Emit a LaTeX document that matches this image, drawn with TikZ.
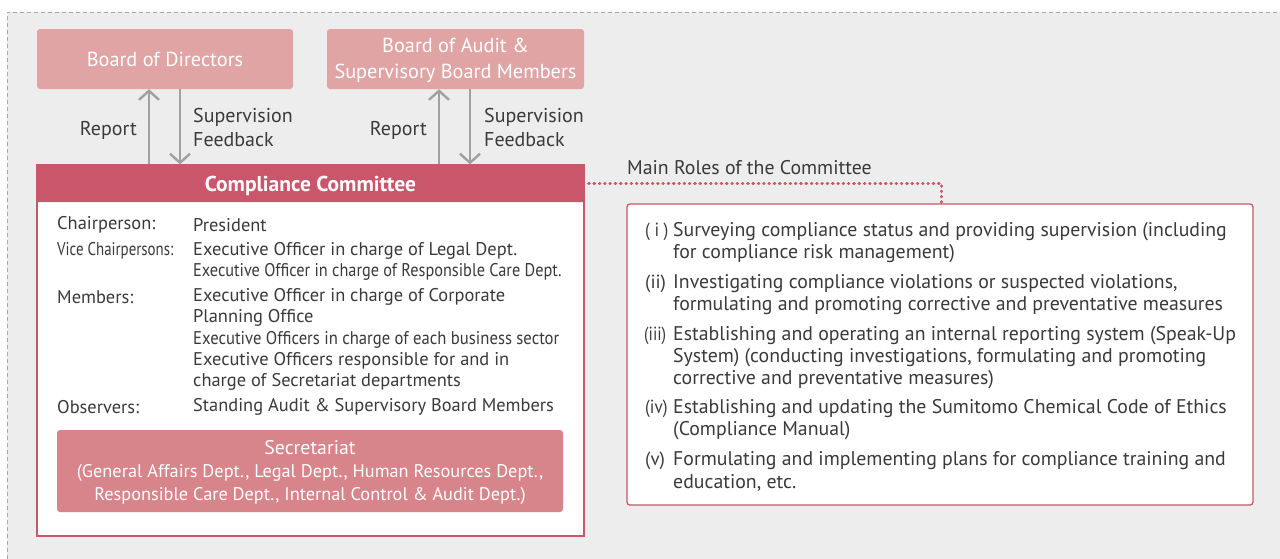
\documentclass[tikz,border=0pt]{standalone}
\usepackage{fontspec}
\setmainfont{PT Sans}
\usetikzlibrary{arrows.meta,calc}
\definecolor{bggray}{HTML}{EDEDED}
\definecolor{framegray}{HTML}{A8A8A8}
\definecolor{boardpink}{HTML}{E0A4A4}
\definecolor{ccred}{HTML}{C9566A}
\definecolor{secpink}{HTML}{D7848A}
\definecolor{txt}{HTML}{3A3A3A}
\definecolor{arrgray}{HTML}{A0A0A0}
\tikzset{
  board/.style={fill=boardpink, rounded corners=3pt, text=white, align=center, inner sep=0pt, font=\fontsize{20.3}{26}\selectfont},
  arr/.style={draw=arrgray, line width=2.6pt, -{Straight Barb[length=9pt,width=20pt,line width=2.4pt]}},
  lbl/.style={text=txt, font=\fontsize{20}{24}\selectfont, inner sep=0pt},
  bodytxt/.style={text=txt, font=\fontsize{18.4}{21}\selectfont, inner sep=0pt, anchor=west},
  roletxt/.style={text=txt, font=\fontsize{19.8}{22}\selectfont, inner sep=0pt, anchor=west},
  rolenum/.style={roletxt, font=\fontsize{19}{22}\selectfont},
  dotline/.style={draw=ccred, line width=3pt, line cap=round, dash pattern=on 0.6pt off 4.7pt}
}
\begin{document}
\begin{tikzpicture}[x=1pt,y=-1pt]
\useasboundingbox (0,0) rectangle (1280,558);
\clip (0,0) rectangle (1280,558);
% background frame
\fill[bggray] (7,12) rectangle (1300,580);
\draw[framegray, line width=1pt, dash pattern=on 4pt off 3pt] (7,580) -- (7,12) -- (1300,12);

% boards
\node[board, minimum width=256pt, minimum height=60pt] (bod) at (165,59) {Board of Directors};
\node[board, minimum width=257pt, minimum height=60pt] (bas) at (455.5,59) {};
\node[text=white, align=center, inner sep=0pt, font=\fontsize{20.3}{26}\selectfont] (bast) at (455.5,60) {Board of Audit \&\\Supervisory Board Members};

% compliance committee
\node[draw=ccred, line width=1.3pt, fill=white, minimum width=547pt, minimum height=371pt, inner sep=0pt] (cc) at (310.5,350.5) {};
\fill[ccred] (37,202) [rounded corners=3pt] -- (37,165) -- (584,165) [sharp corners] -- (584,202) -- cycle;
\node[text=white, font=\fontsize{21.5}{22}\selectfont\bfseries, inner sep=0pt] (cchead) at (310.5,186) {Compliance Committee};

% arrows
\draw[arr] (cc.north -| 149,0) -- (bod.south -| 149,0);
\draw[arr] (bod.south -| 180,0) -- (cc.north -| 180,0);
\draw[arr] (cc.north -| 439,0) -- (bas.south -| 439,0);
\draw[arr] (bas.south -| 470,0) -- (cc.north -| 470,0);
\node[lbl, anchor=east] (rep1) at (137,130) {Report};
\node[lbl, anchor=west, align=left] (sup1) at (193,127) {Supervision\\Feedback};
\node[lbl, anchor=east] (rep2) at (427,130) {Report};
\node[lbl, anchor=west, align=left] (sup2) at (484,127) {Supervision\\Feedback};

% committee body
\node[bodytxt] (l1) at (57,225) {Chairperson:};
\node[bodytxt] (v1) at (193,225) {President};
\node[bodytxt] (l2) at (57,251) {\scalebox{0.81}[1]{Vice Chairpersons:}};
\node[bodytxt] (v2) at (193,251) {Executive Officer in charge of Legal Dept.};
\node[bodytxt] (v3) at (193,272) {\scalebox{0.885}[1]{Executive Officer in charge of Responsible Care Dept.}};
\node[bodytxt] (l4) at (57,297) {Members:};
\node[bodytxt] (v4) at (193,297) {Executive Officer in charge of Corporate};
\node[bodytxt] (v5) at (193,318) {Planning Office};
\node[bodytxt] (v6) at (193,340) {\scalebox{0.905}[1]{Executive Officers in charge of each business sector}};
\node[bodytxt] (v7) at (193,361) {Executive Officers responsible for and in};
\node[bodytxt] (v8) at (193,382) {charge of Secretariat departments};
\node[bodytxt] (l9) at (57,407) {Observers:};
\node[bodytxt] (v9) at (193,407) {Standing Audit \& Supervisory Board Members};

% secretariat
\node[fill=secpink, rounded corners=3pt, minimum width=506pt, minimum height=82pt, inner sep=0pt] (sec) at (310,471) {};
\node[text=white, font=\fontsize{19.8}{22}\selectfont, inner sep=0pt] (sect) at (310,448) {Secretariat};
\node[text=white, font=\fontsize{18.3}{23}\selectfont, inner sep=0pt, align=center] (secd) at (310,484.5) {(General Affairs Dept., Legal Dept., Human Resources Dept.,\\Responsible Care Dept., Internal Control \& Audit Dept.)};

% main roles
\node[text=txt, font=\fontsize{19.8}{22}\selectfont, inner sep=0pt, anchor=west] (mrt) at (627,168) {Main Roles of the Committee};
\node[draw=ccred, line width=1.3pt, fill=white, rounded corners=3pt, minimum width=626pt, minimum height=301pt, inner sep=0pt] (roles) at (940,354.5) {};
\coordinate (dotend) at (941,183);
\draw[dotline] (cc.north east |- dotend) ++(4,0) -- (dotend) -- (roles.north -| dotend);

\node[rolenum] (r1a) at (645,232) {\scalebox{0.9}[1]{( i )}};
\node[roletxt] (r1) at (673,232) {Surveying compliance status and providing supervision (including};
\node[roletxt] (r1b) at (673,254) {for compliance risk management)};
\node[rolenum] (r2a) at (645,284) {(ii)};
\node[roletxt] (r2) at (673,284) {Investigating compliance violations or suspected violations,};
\node[roletxt] (r2b) at (673,306) {formulating and promoting corrective and preventative measures};
\node[rolenum] (r3a) at (644,336) {\scalebox{0.85}[1]{(iii)}};
\node[roletxt] (r3) at (673,336) {Establishing and operating an internal reporting system (Speak-Up};
\node[roletxt] (r3b) at (673,358) {System) (conducting investigations, formulating and promoting};
\node[roletxt] (r3c) at (673,380) {corrective and preventative measures)};
\node[rolenum] (r4a) at (645,409) {\scalebox{0.9}[1]{(iv)}};
\node[roletxt] (r4) at (673,409) {Establishing and updating the Sumitomo Chemical Code of Ethics};
\node[roletxt] (r4b) at (673,431) {(Compliance Manual)};
\node[rolenum] (r5a) at (645,461) {(v)};
\node[roletxt] (r5) at (673,461) {Formulating and implementing plans for compliance training and};
\node[roletxt] (r5b) at (673,483) {education, etc.};
\end{tikzpicture}
\end{document}
